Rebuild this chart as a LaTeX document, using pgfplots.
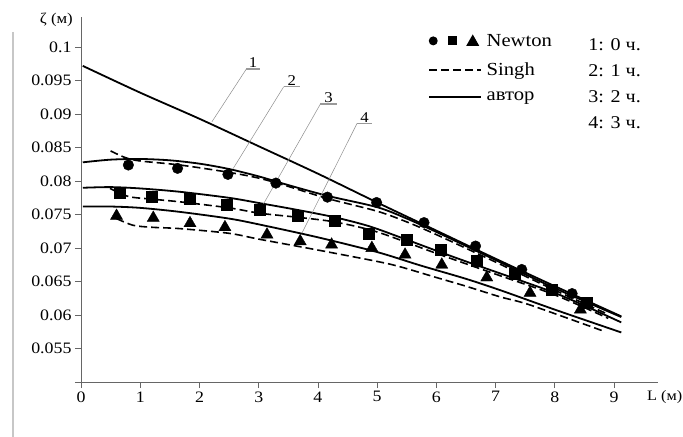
\documentclass[border=0pt]{standalone}
\usepackage{fontspec}
\setmainfont{Liberation Serif}[FakeStretch=1.12]
\usepackage{pgfplots}
\pgfplotsset{compat=1.18}

\tikzset{
  avtor/.style={black, line width=1.8bp},
  singh/.style={black, line width=1.6bp, dash pattern=on 8bp off 4bp},
  lead/.style={black!45, line width=0.5bp},
  ul/.style={black!40, line width=1.3bp},
}

\begin{document}
\begin{tikzpicture}
\useasboundingbox (-81bp,-55bp) rectangle (602bp,382bp);
\begin{axis}[
  scale only axis, width=577bp, height=365bp,
  xmin=0, xmax=9.74, ymin=0.05, ymax=0.1045,
  axis x line*=bottom, axis y line*=left,
  axis line style={-, draw=black!60, line width=0.9bp},
  tick align=outside, major tick length=6bp,
  tick style={draw=black!60, line width=0.9bp},
  xtick={0,1,2,3,4,5,6,7,8,9},
  xticklabels={0,1,2,3,4,5,6,7,8,9},
  ytick={0.05,0.055,0.06,0.065,0.07,0.075,0.08,0.085,0.09,0.095,0.1},
  yticklabels={,0.055,0.06,0.065,0.07,0.075,0.08,0.085,0.09,0.095,0.1},
  tick label style={font=\fontsize{16}{18}\selectfont},
  clip=false,
  legend cell align=left,
  legend style={at={(axis cs:5.86,0.1022)}, anchor=north west, draw=none,
    fill=none, inner sep=0pt, row sep=12bp,
    font=\fontsize{18.5}{20}\selectfont,
    nodes={inner sep=1.5bp},
    /tikz/every odd column/.style={column sep=3bp}},
]
% legend keys
\addlegendimage{legend image code/.code={
  \path[draw=none] (0bp,0bp) -- (50bp,0bp);
  \fill[draw=none] (4bp,0bp) circle (4.5bp);
  \fill[draw=none] (18.5bp,-4.5bp) rectangle (27.5bp,4.5bp);
  \fill[draw=none] (37bp,-5bp) -- (50bp,-5bp) -- (43.5bp,6.5bp) -- cycle;}}
\addlegendentry{Newton}
\addlegendimage{legend image code/.code={
  \draw[singh] (0bp,0bp) -- (52bp,0bp);}}
\addlegendentry{Singh}
\addlegendimage{legend image code/.code={
  \draw[avtor] (0bp,0bp) -- (52bp,0bp);}}
\addlegendentry{автор}

% 1: 0 h, author
\addplot[avtor, smooth, forget plot] coordinates {
  (0.03,0.0972) (1,0.0932) (2,0.0893) (3,0.0852) (4,0.0811)
  (5,0.0768) (6,0.0726) (7,0.0684) (8,0.0643) (9.12,0.0598)};

% 2: 1 h
\addplot[avtor, smooth, forget plot] coordinates {
  (0.03,0.0828) (0.5,0.0832) (1,0.0833) (1.5,0.0831) (2,0.0826)
  (2.5,0.0818) (3,0.0807) (3.5,0.0794) (4.16,0.0778) (5,0.0761)
  (5.5,0.0744) (6,0.0724) (6.5,0.0703) (7,0.0682) (8,0.0640) (9.12,0.0597)};
\addplot[singh, smooth, forget plot] coordinates {
  (0.5,0.0845) (0.75,0.0835) (1,0.0830) (1.67,0.0824) (2.5,0.0813)
  (3.02,0.0804) (3.5,0.0792) (4.16,0.0774) (5,0.0755) (5.5,0.0739)
  (6,0.0720) (7,0.0679) (8,0.0637) (8.9,0.0601)};
\addplot[only marks, mark=*, mark size=5.3bp, black, forget plot] coordinates {
  (0.80,0.0824) (1.63,0.0819) (2.48,0.0810) (3.29,0.0797) (4.16,0.0776)
  (4.99,0.0768) (5.79,0.0738) (6.66,0.0703) (7.44,0.0668) (8.29,0.0632)};

% 3: 2 h
\addplot[avtor, smooth, forget plot] coordinates {
  (0.03,0.0790) (0.5,0.0791) (1,0.0789) (1.67,0.0784) (2.5,0.0775)
  (3.02,0.0767) (3.65,0.0757) (4.28,0.0746) (4.85,0.0733) (5.39,0.0716)
  (6,0.0696) (6.5,0.0680) (7.08,0.0662) (7.5,0.0649) (8,0.0633)
  (8.5,0.0614) (9.12,0.0589)};
\addplot[singh, smooth, forget plot] coordinates {
  (0.49,0.0789) (0.8,0.0777) (1.2,0.0773) (1.67,0.0769) (2.5,0.0760)
  (3.02,0.0752) (3.65,0.0746) (4.28,0.0739) (5,0.0724) (6,0.0692)
  (7,0.0661) (8,0.0630) (8.9,0.0595)};
\addplot[only marks, mark=square*, mark size=5.5bp, black, forget plot] coordinates {
  (0.66,0.0782) (1.2,0.0776) (1.83,0.0774) (2.46,0.0764) (3.02,0.0757)
  (3.65,0.0748) (4.28,0.0741) (4.85,0.0721) (5.49,0.0712) (6.08,0.0698)
  (6.68,0.0681) (7.32,0.0662) (7.94,0.0638) (8.54,0.0618)};

% 4: 3 h
\addplot[avtor, smooth, forget plot] coordinates {
  (0.03,0.0762) (0.5,0.0762) (1,0.0760) (1.67,0.0754) (2.5,0.0744)
  (3.02,0.0735) (4,0.0716) (5,0.0694) (5.73,0.0674) (6.5,0.0654)
  (7.08,0.0637) (8,0.0608) (9.12,0.0574)};
\addplot[singh, smooth, forget plot] coordinates {
  (0.6,0.0744) (0.88,0.0734) (1.2,0.0731) (1.67,0.0729) (2.5,0.0722)
  (3.02,0.0713) (4,0.0697) (5,0.0680) (5.39,0.0672) (6,0.0656)
  (6.5,0.0643) (7.08,0.0627) (7.58,0.0615) (8.85,0.0575)};
\addplot[only marks, mark=triangle*, mark size=7bp, black, forget plot] coordinates {
  (0.60,0.0748) (1.22,0.0745) (1.84,0.0737) (2.43,0.0731) (3.14,0.0720)
  (3.70,0.0710) (4.23,0.0705) (4.91,0.0700) (5.47,0.0690) (6.09,0.0675)
  (6.85,0.0656) (7.58,0.0633) (8.43,0.0608)};

% curve labels
\draw[lead] (axis cs:2.21,0.08885) -- (axis cs:2.79,0.09672);
\draw[ul] (axis cs:2.79,0.09672) -- (axis cs:3.02,0.09672);
\node[anchor=south, inner sep=1bp, font=\fontsize{15}{17}\selectfont] at (axis cs:2.905,0.09672) {1};
\draw[lead] (axis cs:2.57,0.08189) -- (axis cs:3.42,0.09407);
\draw[ul] (axis cs:3.42,0.09407) -- (axis cs:3.70,0.09407);
\node[anchor=south, inner sep=1bp, font=\fontsize{15}{17}\selectfont] at (axis cs:3.56,0.09407) {2};
\draw[lead] (axis cs:3.07,0.07642) -- (axis cs:4.04,0.09149);
\draw[ul] (axis cs:4.04,0.09149) -- (axis cs:4.32,0.09149);
\node[anchor=south, inner sep=1bp, font=\fontsize{15}{17}\selectfont] at (axis cs:4.18,0.09149) {3};
\draw[lead] (axis cs:3.73,0.07224) -- (axis cs:4.66,0.08861);
\draw[ul] (axis cs:4.66,0.08861) -- (axis cs:4.91,0.08861);
\node[anchor=south, inner sep=1bp, font=\fontsize{15}{17}\selectfont] at (axis cs:4.785,0.08861) {4};

\node[anchor=north west, align=left, inner sep=0pt,
  font=\fontsize{18}{26}\selectfont] at (axis cs:8.56,0.1013)
  {1: 0 ч.\\2: 1 ч.\\3: 2 ч.\\4: 3 ч.};
\end{axis}
\node[anchor=east, inner sep=0pt, font=\fontsize{15}{17}\selectfont] at (-8bp,362bp) {ζ (м)};
\node[anchor=west, inner sep=0pt, font=\fontsize{14.5}{17}\selectfont] at (566bp,-15bp) {L (м)};
\draw[black!22, line width=2bp] (-68bp,350bp) -- (-68bp,-55bp);
\end{tikzpicture}
\end{document}
